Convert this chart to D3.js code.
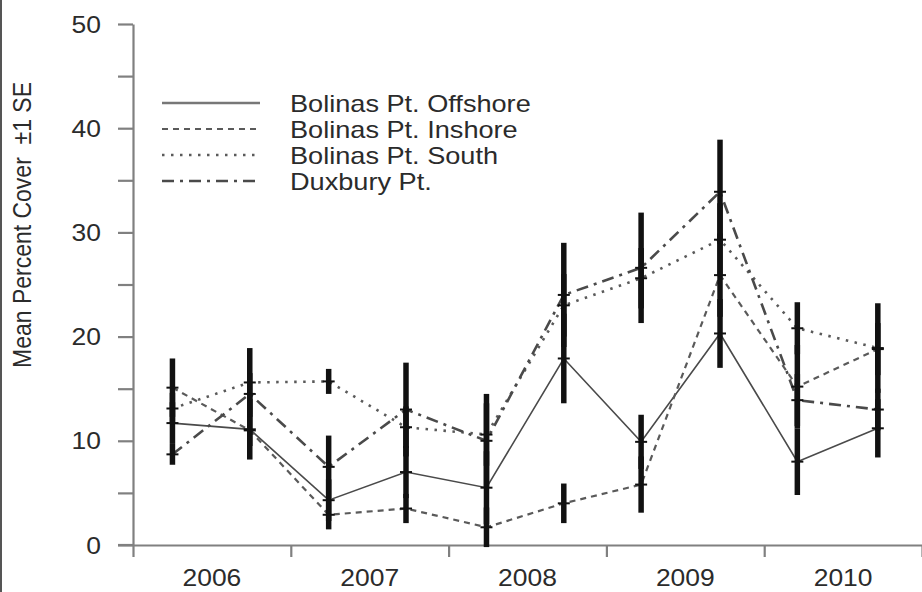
<!DOCTYPE html>
<html>
<head>
<meta charset="utf-8">
<script src="https://cdn.jsdelivr.net/npm/d3@7"></script>
<style>
  html, body { margin: 0; padding: 0; background: #fff; }
  svg { display: block; }
  text { font-family: "Liberation Sans", Arial, sans-serif; fill: #2b2b2b; white-space: pre; }
</style>
</head>
<body>
<svg id="chart" width="922" height="592"></svg>
<script>
// Sampling dates (decimal years), two surveys per year
const sampleTimes = [2006.25, 2006.74, 2007.24, 2007.73, 2008.24, 2008.73, 2009.22, 2009.72, 2010.21, 2010.72];
const yearLabels = ["2006", "2007", "2008", "2009", "2010"];
const yearBounds = [2006, 2007, 2008, 2009, 2010, 2011];
const yTicks = [0, 10, 20, 30, 40, 50];
const yMinorTicks = [0, 5, 10, 15, 20, 25, 30, 35, 40, 45, 50];

// Mean percent cover and standard error per site
const offshore   = [11.7, 11.1, 4.3, 7.0, 5.5, 17.9, 9.9, 20.3, 8.0, 11.2];
const offshoreSE = [2.0, 2.9, 2.0, 2.5, 3.5, 4.3, 2.6, 3.3, 3.2, 2.8];
const inshore    = [15.1, 11.0, 2.9, 3.5, 1.7, 4.0, 5.8, 25.9, 15.2, 18.8];
const inshoreSE  = [2.8, 1.5, 1.4, 1.4, 1.9, 1.9, 2.7, 4.0, 4.0, 2.5];
const south      = [13.1, 15.6, 15.7, 11.3, 10.6, 23.0, 25.6, 29.3, 20.8, 18.9];
const southSE    = [1.5, 3.3, 1.2, 2.0, 3.0, 3.0, 2.9, 3.5, 2.5, 4.3];
const duxbury    = [8.7, 14.5, 7.5, 13.0, 10.0, 24.0, 26.6, 33.9, 13.9, 13.0];
const duxburySE  = [1.0, 2.0, 3.0, 4.5, 4.5, 5.0, 5.3, 5.0, 2.5, 2.0];

const siteNames = ["Bolinas Pt. Offshore", "Bolinas Pt. Inshore", "Bolinas Pt. South", "Duxbury Pt."];

const series = [
  { name: siteNames[0], mean: offshore, se: offshoreSE, dash: null,          width: 1.6, color: "#4a4a4a" },
  { name: siteNames[1], mean: inshore,  se: inshoreSE,  dash: "6,5",         width: 2.2, color: "#5a5a5a" },
  { name: siteNames[2], mean: south,    se: southSE,    dash: "2.5,6.5",     width: 2.6, color: "#5a5a5a" },
  { name: siteNames[3], mean: duxbury,  se: duxburySE,  dash: "12,6,3,6",    width: 2.6, color: "#4a4a4a" }
];

const svg = d3.select("#chart");
const SX = 1.15; // horizontal glyph stretch used for all labels
const FONT = 23;

// page frame edge
svg.append("line").attr("x1", 1).attr("x2", 1).attr("y1", 0).attr("y2", 592)
  .attr("stroke", "#555").attr("stroke-width", 2);

const x = d3.scaleLinear().domain([2006, 2011]).range([133, 922]);
const y = d3.scaleLinear().domain([0, 50]).range([545, 24]);

// Y axis: ticks every 5, labels every 10
const yAxis = svg.append("g").attr("transform", `translate(${x(2006)},0)`)
  .call(d3.axisLeft(y).tickValues(yMinorTicks).tickSize(15).tickSizeOuter(0).tickFormat(""));
yAxis.select(".domain").attr("stroke", "#808080").attr("stroke-width", 2.2);
yAxis.selectAll(".tick line").attr("stroke", "#808080").attr("stroke-width", 2.2);

svg.append("g").selectAll("text").data(yTicks).join("text")
  .attr("text-anchor", "end")
  .attr("font-size", FONT)
  .attr("transform", d => `translate(101,${y(d) + 8.5}) scale(${SX},1)`)
  .text(d => d);

// X axis: year boundaries as ticks, year names centred between them
const xAxis = svg.append("g").attr("transform", `translate(0,${y(0)})`)
  .call(d3.axisBottom(x).tickValues(yearBounds).tickSize(12).tickFormat("").tickSizeOuter(0));
xAxis.select(".domain").attr("stroke", "#808080").attr("stroke-width", 2.2);
xAxis.selectAll(".tick line").attr("stroke", "#808080").attr("stroke-width", 2.2);
// short extension of the baseline to the left (zero tick)
svg.append("line").attr("x1", x(2006) - 15).attr("x2", x(2006))
  .attr("y1", y(0)).attr("y2", y(0)).attr("stroke", "#808080").attr("stroke-width", 2.2);

svg.append("g").selectAll("text").data(yearLabels).join("text")
  .attr("text-anchor", "middle")
  .attr("font-size", FONT)
  .attr("transform", d => `translate(${x(+d + 0.5)},586) scale(${SX},1)`)
  .text(d => d);

// Y axis title
svg.append("text")
  .attr("text-anchor", "middle")
  .attr("font-size", FONT)
  .attr("transform", `translate(31,225) scale(${SX},1) rotate(-90)`)
  .text("Mean Percent Cover  \u00b11 SE");

// Series lines
const line = d3.line().x((d, i) => x(sampleTimes[i])).y(d => y(d));
series.forEach(s => {
  svg.append("path")
    .datum(s.mean)
    .attr("d", line)
    .attr("fill", "none")
    .attr("stroke", s.color)
    .attr("stroke-width", s.width)
    .attr("stroke-dasharray", s.dash);
});

// Error bars (±1 SE) and mean ticks
series.forEach(s => {
  const g = svg.append("g");
  g.selectAll("line.err").data(s.mean).join("line")
    .attr("class", "err")
    .attr("x1", (d, i) => x(sampleTimes[i])).attr("x2", (d, i) => x(sampleTimes[i]))
    .attr("y1", (d, i) => y(d + s.se[i])).attr("y2", (d, i) => y(d - s.se[i]))
    .attr("stroke", "#111").attr("stroke-width", 5.5);
  g.selectAll("line.mean").data(s.mean).join("line")
    .attr("class", "mean")
    .attr("x1", (d, i) => x(sampleTimes[i]) - 6).attr("x2", (d, i) => x(sampleTimes[i]) + 6)
    .attr("y1", d => y(d)).attr("y2", d => y(d))
    .attr("stroke", "#111").attr("stroke-width", 2);
});

// Legend
const legend = svg.append("g");
const legendBase = [112, 138, 164, 190];
series.forEach((s, i) => {
  legend.append("line")
    .attr("x1", 162).attr("x2", 260)
    .attr("y1", legendBase[i] - 9).attr("y2", legendBase[i] - 9)
    .attr("stroke", i === 0 ? "#777" : s.color)
    .attr("stroke-width", i === 0 ? 2.6 : s.width)
    .attr("stroke-dasharray", s.dash);
  legend.append("text")
    .attr("font-size", FONT)
    .attr("transform", `translate(290,${legendBase[i]}) scale(1.18,1)`)
    .text(s.name);
});
</script>
</body>
</html>
